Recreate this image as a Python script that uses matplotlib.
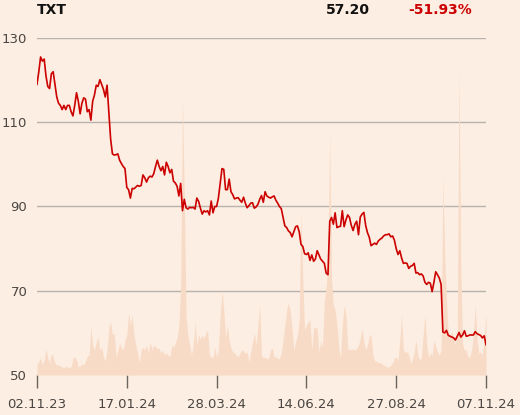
import matplotlib
matplotlib.use("Agg")
import matplotlib.pyplot as plt
import numpy as np

ticker = "TXT"
last_price = "57.20"
change = "-51.93%"

tick_positions = [0, 50, 100, 150, 200, 250]
tick_labels = ["02.11.23", "17.01.24", "28.03.24", "14.06.24", "27.08.24", "07.11.24"]
y_ticks = [50, 70, 90, 110, 130]

price = [
    119.0, 122.0, 125.5, 124.5, 125.0, 121.0, 118.5, 118.0, 121.5, 122.0,
    119.0, 116.0, 114.5, 114.0, 113.0, 114.0, 113.0, 114.0, 114.0, 112.5,
    111.5, 114.0, 117.0, 115.0, 112.0, 114.5, 115.8, 115.5, 112.5, 113.0,
    110.5, 115.0, 116.5, 118.8, 118.5, 120.1, 119.0, 117.8, 116.0, 118.8,
    112.5, 106.0, 102.5, 102.2, 102.3, 102.5, 101.0, 100.2, 99.5, 99.0,
    94.5, 94.0, 92.0, 94.3, 94.2, 94.6, 95.0, 94.8, 95.0, 97.5,
    96.8, 95.8, 96.8, 97.2, 97.0, 97.8, 99.5, 101.0, 99.5, 98.5,
    99.5, 97.5, 100.5, 99.5, 98.0, 98.8, 96.0, 95.6, 94.8, 92.5,
    95.5, 89.0, 91.7, 89.7, 89.4, 89.8, 89.7, 89.8, 89.4, 92.0,
    91.2, 89.6, 88.2, 89.0, 88.7, 89.0, 88.0, 91.3, 88.5, 90.0,
    90.0, 92.0, 95.5, 99.0, 98.8, 94.0, 94.0, 96.5, 93.5, 92.8,
    91.8, 92.0, 92.1, 91.5, 91.0, 92.2, 90.8, 89.7, 90.2, 90.8,
    90.9, 89.6, 89.9, 90.5, 91.7, 92.6, 91.0, 93.5, 92.5, 92.2,
    92.0, 92.3, 92.5, 91.5, 90.8, 90.0, 89.5, 87.5, 85.4, 85.0,
    84.2, 83.8, 82.8, 84.0, 85.2, 85.4, 84.0, 81.0, 80.5, 78.8,
    78.6, 79.0, 77.2, 78.5, 77.0, 77.5, 79.5, 78.5, 77.5, 77.0,
    76.5, 74.2, 73.8, 86.5, 87.4, 85.8, 88.5, 85.0, 85.2, 85.3,
    89.0, 85.2, 86.8, 88.0, 87.4, 85.5, 84.3, 85.8, 86.5, 83.3,
    87.5, 88.2, 88.6, 85.5, 83.8, 82.7, 80.7, 81.0, 81.3, 81.0,
    81.8, 82.2, 82.5, 83.0, 83.3, 83.3, 83.5, 82.8, 83.0, 82.0,
    80.0, 78.6, 79.5, 77.8, 76.5, 76.6, 76.5, 75.3, 75.8, 76.0,
    76.5, 74.2, 74.3, 73.8, 74.0, 73.5, 72.0, 71.5, 72.0, 71.8,
    69.8, 72.0, 74.5, 73.8, 73.0, 71.5, 60.2, 60.0, 60.6, 59.4,
    59.2, 59.0, 58.8, 58.3, 59.2, 60.1, 59.0, 59.5, 60.5, 59.2,
    59.3, 59.5, 59.5, 59.5, 60.3, 59.8, 59.6, 59.4, 58.8, 59.3,
    57.2,
]

volume = [
    1.0, 1.4, 1.7, 1.0, 1.5, 2.6, 1.7, 1.2, 2.2, 1.8,
    1.2, 1.0, 1.0, 0.9, 0.8, 0.7, 0.9, 0.7, 0.8, 0.8,
    1.7, 1.8, 1.5, 0.8, 0.9, 1.1, 1.0, 1.4, 1.9, 2.0,
    4.8, 3.0, 2.5, 3.3, 3.8, 2.5, 2.8, 1.8, 1.4, 2.5,
    4.8, 5.3, 4.0, 4.2, 1.8, 2.5, 3.2, 2.7, 2.5, 3.5,
    4.0, 6.2, 5.0, 6.0, 4.0, 3.0, 2.2, 1.2, 2.5, 2.8,
    2.5, 3.0, 2.2, 3.3, 2.5, 3.0, 2.8, 2.6, 2.7, 2.2,
    2.5, 2.0, 2.2, 2.0, 1.8, 3.0, 2.8, 3.2, 3.7, 5.0,
    9.0, 27.5, 18.0, 6.0, 4.0, 3.0, 2.0, 3.0, 5.3, 3.0,
    4.0, 3.6, 4.0, 3.7, 4.2, 4.5, 2.0, 1.8, 1.7, 2.8,
    1.8, 2.5, 6.0, 8.5, 6.5, 3.7, 5.0, 3.5, 2.7, 2.3,
    2.2, 2.0, 1.8, 2.2, 2.5, 2.4, 2.2, 2.3, 1.3, 2.3,
    3.3, 4.2, 3.0, 5.0, 7.0, 2.0, 1.7, 1.8, 1.6, 1.7,
    2.5, 2.7, 1.8, 1.8, 1.7, 1.6, 2.2, 3.5, 5.0, 6.5,
    7.2, 6.5, 4.7, 2.5, 3.3, 4.0, 5.5, 16.5, 9.5, 4.5,
    5.0, 5.3, 5.5, 2.5, 4.8, 4.7, 4.7, 2.2, 3.5, 2.7,
    7.5, 8.8, 11.0, 24.3, 9.5, 7.0, 6.5, 5.0, 2.7, 1.7,
    5.0, 7.0, 6.0, 2.7, 2.5, 2.6, 2.6, 2.5, 2.7, 3.0,
    3.7, 4.7, 3.3, 2.5, 3.0, 4.0, 4.0, 2.0, 1.4, 1.4,
    1.2, 1.3, 1.1, 1.0, 0.9, 0.8, 0.8, 1.0, 1.2, 1.7,
    1.8, 1.5, 3.5, 6.0, 2.5, 2.3, 2.3, 2.0, 1.2, 1.5,
    2.3, 3.5, 2.0, 1.5, 1.7, 4.0, 6.0, 3.0, 1.7, 2.2,
    2.0, 3.5, 2.8, 2.3, 2.0, 2.5, 19.8, 12.0, 7.5, 4.0,
    4.0, 4.3, 3.8, 3.0, 4.3, 30.8, 10.0, 3.0, 2.5, 2.5,
    1.8, 1.8, 2.5, 4.0, 7.0, 3.5, 2.2, 2.3, 2.0, 3.7,
    6.2,
]

BG = "#FCEEE2"
RED = "#CC0000"
VOL = "#F8DBC6"
TXT = "#4a4542"

fig = plt.figure(figsize=(5.2, 4.15), dpi=100, facecolor=BG)
pos = [37 / 520, 1 - 375 / 415, (486 - 37) / 520, (375 - 38) / 415]

ax = fig.add_axes(pos)
ax.set_facecolor(BG)
x = np.arange(len(price))
ax.set_xlim(0, len(price) - 1)
ax.set_ylim(50, 130)
ax.set_yticks(y_ticks)
ax.grid(axis="y", color="#B8B3AE", lw=1)
ax.grid(axis="x", visible=False)
ax.set_axisbelow(True)
for s in ax.spines.values():
    s.set_visible(False)
ax.tick_params(axis="y", length=0, pad=7, labelsize=9.5, labelcolor=TXT)
ax.set_xticks(tick_positions)
ax.set_xticklabels(tick_labels)
ax.tick_params(axis="x", length=9.5, width=1, color="#6b6560", pad=7,
               labelsize=9.5, labelcolor=TXT)

axv = ax.twinx()
axv.set_ylim(0, 33.7)
axv.fill_between(x, 0, volume, color=VOL, lw=0)
axv.axis("off")

axp = fig.add_axes(pos, sharex=ax, sharey=ax, frameon=False)
axp.patch.set_visible(False)
axp.plot(x, price, color=RED, lw=1.2, solid_joinstyle="round")
axp.tick_params(left=False, bottom=False, labelleft=False, labelbottom=False)

ty = 1 - 10 / 415
fig.text(37 / 520, ty, ticker, fontsize=10, fontweight="bold", ha="left", va="center", color="#111111")
fig.text(370 / 520, ty, last_price, fontsize=10, fontweight="bold", ha="right", va="center", color="#111111")
fig.text(472 / 520, ty, change, fontsize=10, fontweight="bold", ha="right", va="center", color=RED)

fig.savefig("out.png", dpi=100, facecolor=BG)
